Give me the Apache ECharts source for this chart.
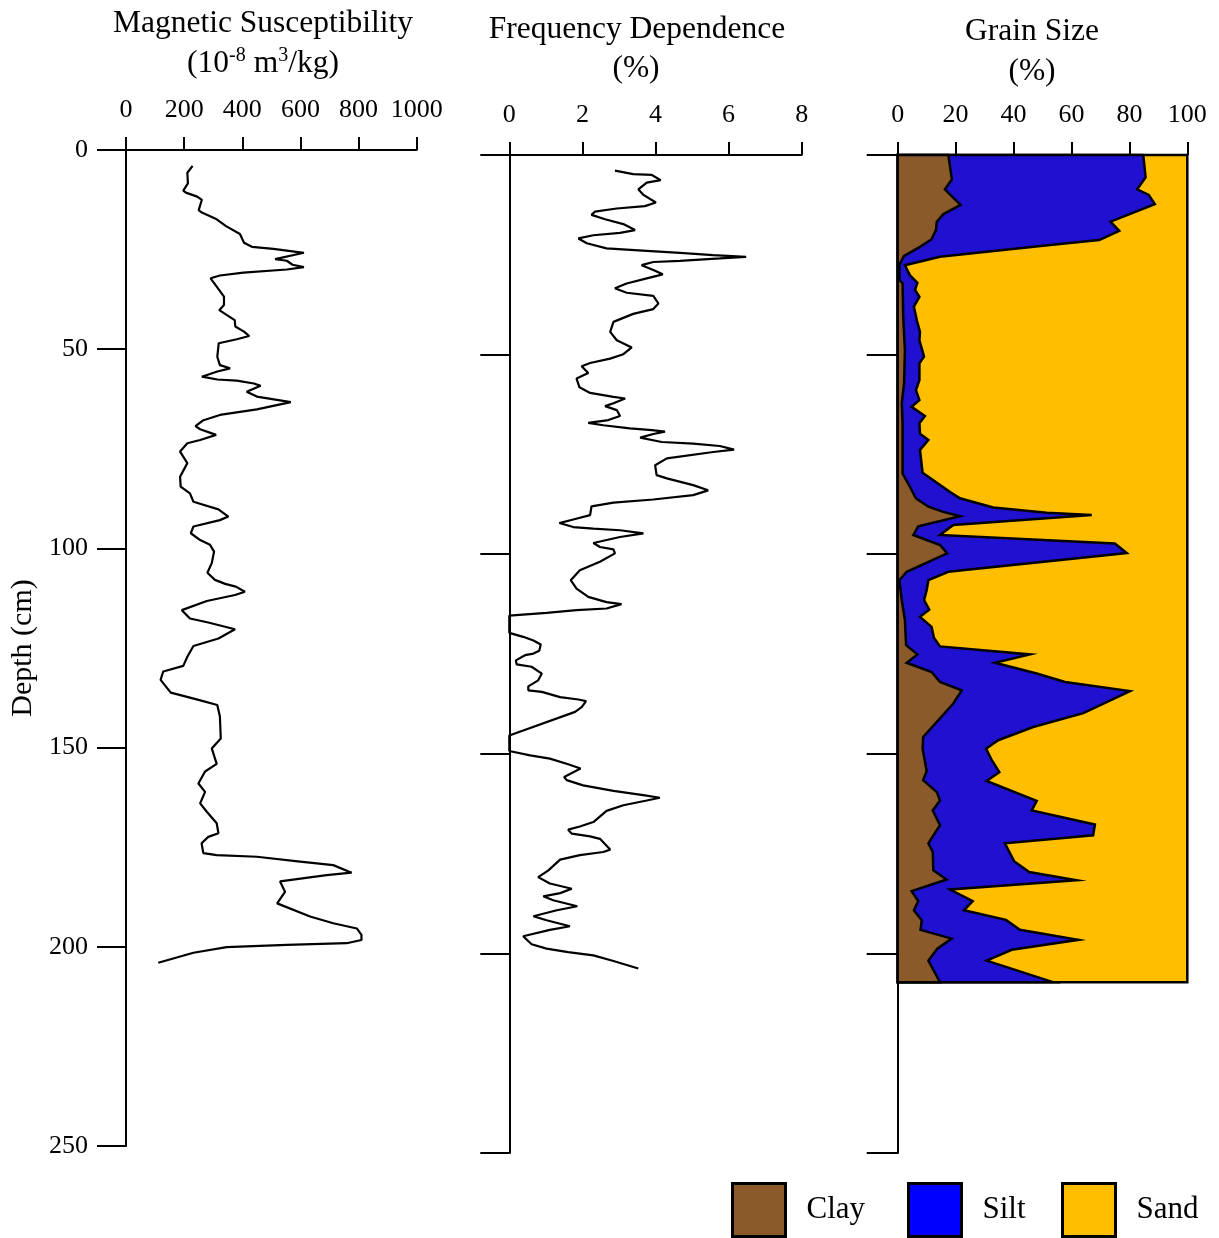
<!DOCTYPE html>
<html><head><meta charset="utf-8">
<script src="https://cdn.jsdelivr.net/npm/echarts@6/dist/echarts.min.js"></script>
<style>html,body{margin:0;padding:0;background:#fff}#c{width:1219px;height:1238px}</style>
</head><body><div id="c"></div><script>
// ---- Magnetic susceptibility (10^-8 m3/kg) vs depth (cm)
const magDepth = [4.0,5.7,8.4,10.2,10.7,11.7,12.5,15.1,15.7,17.4,19.1,21.1,23.3,24.3,24.8,25.8,27.4,27.8,28.8,29.4,30.0,30.8,31.5,32.2,34.3,36.8,38.9,40.2,41.4,42.7,44.3,45.6,46.7,47.5,48.5,51.9,54.0,54.8,55.6,56.9,57.6,57.9,58.6,59.2,60.7,61.9,63.3,65.1,66.5,67.9,69.3,70.1,71.5,72.8,73.6,75.7,78.6,82.0,84.5,86.2,88.3,90.2,92.0,92.9,94.5,96.2,97.9,99.1,100.8,103.7,106.1,107.9,108.9,109.6,110.9,111.7,113.2,115.5,117.6,118.6,120.3,122.6,124.5,127.2,129.5,130.9,133.0,136.2,137.9,139.3,142.2,147.7,150.2,154.1,156.0,159.0,161.1,164.0,166.1,169.0,171.5,172.4,174.0,176.5,177.0,177.4,178.6,179.5,181.4,182.0,183.6,186.2,189.1,192.4,194.1,195.4,197.0,198.3,199.1,199.5,200.1,201.5,204.0];
const magValues = [229,211,213,197,206,245,261,250,261,312,344,392,406,433,507,612,513,553,573,612,553,404,323,291,312,337,337,321,346,374,376,406,424,381,319,314,323,358,314,261,314,381,440,463,415,450,567,450,323,264,239,255,310,255,211,186,211,186,188,220,232,318,352,323,232,223,255,289,303,295,280,306,341,378,409,375,278,192,220,283,375,318,232,211,197,128,119,154,243,314,323,326,295,312,272,249,272,255,278,312,318,283,260,266,312,450,599,713,776,690,530,547,520,633,713,794,810,810,759,553,346,232,111];

// ---- Frequency dependence (%) vs depth (cm)
const fdDepth = [3.9,4.8,5.0,6.3,6.9,8.6,10.0,11.9,12.8,13.4,14.2,15.0,16.1,17.3,18.8,19.5,20.1,20.9,22.1,23.4,24.0,24.5,25.1,25.5,25.9,26.5,26.8,27.6,28.8,29.9,30.9,32.2,33.4,34.5,35.3,37.2,38.6,39.8,41.8,44.3,46.4,48.2,49.9,51.0,52.1,52.9,54.6,56.0,58.2,59.6,60.6,61.0,62.2,62.9,63.9,65.4,66.4,67.1,67.7,68.5,68.9,69.3,69.9,70.8,71.9,72.3,72.9,73.8,74.4,76.0,77.7,80.2,81.0,82.7,84.0,85.2,86.3,87.1,88.0,90.2,91.3,92.2,93.2,93.6,94.0,94.8,95.7,97.2,98.2,98.8,99.8,101.9,104.0,106.5,108.6,110.7,112.0,112.5,113.6,114.0,114.7,115.4,119.7,120.7,121.6,122.6,124.2,124.9,125.3,126.6,127.6,128.2,129.9,131.6,133.1,134.1,134.5,135.8,136.4,136.8,138.3,139.5,145.4,149.3,150.4,151.2,152.6,153.7,155.8,156.6,157.9,159.3,160.4,161.0,161.7,162.9,164.3,167.1,168.2,169.0,170.0,170.7,171.3,174.0,174.6,175.4,176.5,179.2,180.9,182.5,183.8,184.9,185.7,186.7,188.2,189.2,190.7,191.7,193.2,194.1,195.7,197.7,198.8,199.7,200.5,201.9,203.8];
const fdValues = [2.89,3.39,3.90,4.14,3.76,3.53,3.67,4.01,3.71,2.94,2.34,2.25,2.62,3.12,3.44,3.03,2.30,1.89,2.12,2.66,3.76,4.67,5.58,6.48,5.76,4.67,3.94,3.62,3.94,4.20,3.76,3.21,2.89,3.21,3.94,4.08,3.94,3.39,2.85,2.76,2.94,3.35,3.12,2.76,2.21,1.98,2.16,1.84,1.92,2.21,2.85,3.17,2.85,2.62,2.94,3.03,2.71,2.16,2.57,3.30,3.90,4.26,3.94,3.58,4.17,5.03,5.76,6.15,5.58,4.31,3.99,4.03,4.31,5.03,5.44,5.03,3.94,2.85,2.25,2.21,1.75,1.37,1.75,2.30,3.03,3.67,3.03,2.30,2.48,2.85,2.89,2.48,1.93,1.68,1.84,2.16,2.66,3.07,2.66,1.84,1.02,0.0,0.0,0.38,0.66,0.86,0.82,0.66,0.43,0.18,0.20,0.61,0.89,0.79,0.52,0.52,0.89,1.39,1.89,2.10,1.98,1.80,0.0,0.0,0.57,1.11,1.61,1.95,1.50,1.57,2.02,2.85,3.71,4.12,3.76,3.12,2.66,2.30,1.93,1.61,1.71,2.21,2.48,2.76,2.57,1.93,1.39,1.07,0.79,1.11,1.71,1.39,0.93,1.20,1.86,1.30,0.66,1.02,1.66,1.11,0.38,0.61,1.02,1.61,2.30,2.85,3.53];

// ---- Grain size (%): cumulative boundaries (clay, clay+silt); sand fills to 100
const clayDepth = [0,6.1,8.6,12.5,14.8,16.7,18.8,21.1,23.0,25.3,27.4,31.3,32.2,40.5,48.9,57.2,62.2,67.2,79.8,83.1,86.0,88.1,89.4,90.5,93.0,95.2,97.7,99.8,104.4,106.5,111.5,116.5,122.8,125.1,127.2,129.5,132.0,134.1,137.4,145.8,148.7,154.3,156.6,159.6,161.7,164.2,167.9,172.4,174.6,179.2,181.5,184.4,186.9,189.2,191.7,194.1,196.3,198.8,201.8,207.2];
const clayCum = [17.5,18.7,16.3,21.7,15.8,13.5,13.2,11.7,7.7,2.2,0.6,0.6,1.7,1.9,2.5,2.2,1.4,1.7,1.7,4.2,6.3,10.6,15.7,21.5,7.1,5.4,14.6,17.1,3.1,0.6,1.4,2.5,2.9,6.8,3.1,11.7,14.6,22.1,19.2,8.8,8.6,10.0,8.8,13.5,14.6,12.1,14.6,10.6,12.1,12.3,16.9,4.8,7.1,5.6,8.3,7.9,18.6,13.7,10.6,14.6];
const siltCumDepth = [0,5.6,8.6,10.0,12.3,16.7,19.0,21.3,22.3,23.6,25.5,27.6,30.1,32.0,33.8,35.5,38.0,41.4,44.3,46.4,50.5,52.2,56.4,58.9,61.4,63.1,65.4,67.2,69.8,71.4,73.9,79.6,84.4,86.0,88.3,89.6,90.2,92.7,95.2,97.3,99.7,104.4,106.5,109.0,111.5,113.9,115.7,118.2,120.9,123.1,125.1,127.2,129.9,132.0,134.3,139.8,143.3,146.6,148.7,151.6,154.6,156.8,161.8,164.2,167.7,170.4,172.4,176.9,179.6,181.7,184.0,186.9,189.2,191.6,194.1,196.6,199.1,201.8,207.2];
const siltCum = [84.8,85.6,82.7,86.7,88.8,73.5,76.5,69.6,56.0,38.8,14.6,2.5,4.2,6.8,6.0,7.5,5.6,6.6,7.7,7.5,9.1,7.5,7.5,6.3,7.5,4.8,9.4,7.5,7.7,10.6,7.7,8.6,18.1,21.5,33.0,51.5,67.0,19.2,14.6,75.0,79.1,17.5,10.6,10.0,9.1,10.9,7.7,11.7,12.5,14.6,45.7,33.6,48.0,57.8,80.2,64.1,46.8,34.7,30.5,32.5,35.1,30.7,48.0,46.3,68.1,67.5,37.0,40.2,45.4,61.8,18.1,25.9,22.9,37.4,42.2,62.4,39.4,30.7,53.7];
const totalPct = 100;

const FONT = 'Liberation Serif';
const BLACK = '#000';
const COLORS = { Clay: '#8B5A2B', Silt: '#2010D0', Sand: '#FFBF00' };
const LEGEND_COLORS = { Clay: '#8B5A2B', Silt: '#0000FF', Sand: '#FFBF00' };

const chart = echarts.init(document.getElementById('c'), null, { renderer: 'canvas' });

function xAx(gridIndex, max, interval) {
  return {
    type: 'value', gridIndex, position: 'top', min: 0, max, interval,
    axisLine: { show: true, onZero: false, lineStyle: { color: BLACK, width: 2 } },
    axisTick: { show: true, inside: false, length: 13, lineStyle: { color: BLACK, width: 2 } },
    axisLabel: { show: true, color: BLACK, fontFamily: FONT, fontSize: 26, margin: 27,
                 formatter: v => String(v), hideOverlap: false },
    splitLine: { show: false }
  };
}
function yAx(gridIndex, showLabel, tickLen) {
  const a = {
    type: 'value', gridIndex, inverse: true, min: 0, max: 250, interval: 50,
    axisLine: { show: true, onZero: false, lineStyle: { color: BLACK, width: 2 } },
    axisTick: { show: true, inside: false, length: tickLen, lineStyle: { color: BLACK, width: 2 } },
    axisLabel: { show: showLabel, color: BLACK, fontFamily: FONT, fontSize: 26, margin: 38,
                 formatter: v => String(v) },
    splitLine: { show: false }
  };
  if (showLabel) {
    a.name = 'Depth (cm)';
    a.nameLocation = 'middle';
    a.nameGap = 88;
    a.nameRotate = 90;
    a.nameTextStyle = { color: BLACK, fontFamily: FONT, fontSize: 30 };
  }
  return a;
}

function polySeries(name, pts) {
  return {
    type: 'custom', name, xAxisIndex: 2, yAxisIndex: 2, clip: false,
    itemStyle: { color: COLORS[name] },
    data: [[0, 0]],
    renderItem: function (params, api) {
      return {
        type: 'polygon',
        shape: { points: pts.map(p => api.coord(p)) },
        style: { fill: COLORS[name], stroke: BLACK, lineWidth: 2.5, lineJoin: 'miter' }
      };
    }
  };
}

const gsTop = clayDepth[0];
const gsBottom = clayDepth[clayDepth.length - 1];
const sandPts = [[0, gsTop], [totalPct, gsTop], [totalPct, gsBottom], [0, gsBottom]];
const siltPts = [[0, gsTop]].concat(siltCumDepth.map((d, i) => [siltCum[i], d]), [[0, gsBottom]]);
const clayPts = [[0, gsTop]].concat(clayDepth.map((d, i) => [clayCum[i], d]), [[0, gsBottom]]);

function legendFor(name, left) {
  return {
    data: [{ name, icon: 'rect', itemStyle: { color: LEGEND_COLORS[name], borderColor: BLACK, borderWidth: 3 } }],
    left, top: 1182, padding: 0, itemWidth: 53, itemHeight: 53, selectedMode: false,
    textStyle: { color: BLACK, fontFamily: FONT, fontSize: 31, padding: [0, 0, 0, 16] }
  };
}

function titleText(x, y, text, rich) {
  const s = { text, x, y, textAlign: 'center', textVerticalAlign: 'middle', fill: BLACK, font: '31.5px "Liberation Serif"' };
  if (rich) s.rich = rich;
  return { type: 'text', style: s };
}
const supRich = {
  n: { fontSize: 31.5, fontFamily: FONT, color: BLACK, lineHeight: 34, verticalAlign: 'bottom' },
  s: { fontSize: 20, fontFamily: FONT, color: BLACK, lineHeight: 20, verticalAlign: 'top' }
};

const gridBase = { outerBoundsMode: 'none', containLabel: false };

chart.setOption({
  animation: false,
  backgroundColor: '#fff',
  grid: [
    Object.assign({ left: 126, top: 150, width: 290.7, height: 996 }, gridBase),
    Object.assign({ left: 509.3, top: 155, width: 292.4, height: 998 }, gridBase),
    Object.assign({ left: 897.7, top: 155, width: 289.6, height: 998 }, gridBase)
  ],
  xAxis: [xAx(0, 1000, 200), xAx(1, 8, 2), xAx(2, 100, 20)],
  yAxis: [yAx(0, true, 29), yAx(1, false, 29), yAx(2, false, 31)],
  legend: [legendFor('Clay', 731), legendFor('Silt', 907), legendFor('Sand', 1061)],
  graphic: [
    titleText(263, 24, 'Magnetic Susceptibility'),
    titleText(263, 63, '{n|(10}{s|-8}{n| m}{s|3}{n|/kg)}', supRich),
    titleText(637, 30, 'Frequency Dependence'),
    titleText(636, 69, '(%)'),
    titleText(1032, 32, 'Grain Size'),
    titleText(1032, 72, '(%)')
  ],
  series: [
    { type: 'line', name: 'Magnetic Susceptibility', xAxisIndex: 0, yAxisIndex: 0,
      data: magDepth.map((d, i) => [magValues[i], d]), symbol: 'none', showSymbol: false,
      lineStyle: { color: BLACK, width: 2.2 }, z: 3 },
    { type: 'line', name: 'Frequency Dependence', xAxisIndex: 1, yAxisIndex: 1,
      data: fdDepth.map((d, i) => [fdValues[i], d]), symbol: 'none', showSymbol: false,
      lineStyle: { color: BLACK, width: 2.2 }, z: 3 },
    polySeries('Sand', sandPts),
    polySeries('Silt', siltPts),
    polySeries('Clay', clayPts)
  ]
});
</script></body></html>
